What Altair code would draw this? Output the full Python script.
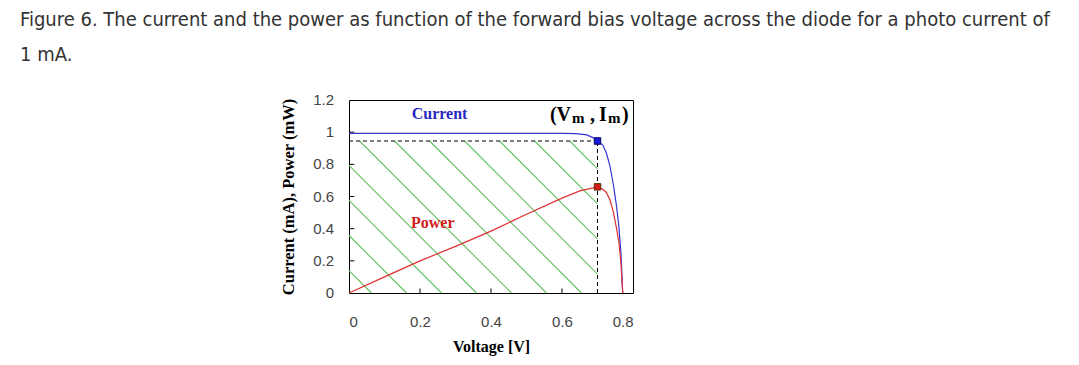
import altair as alt
import pandas as pd

# ---- data ----
cur_v = [0, 0.1, 0.2, 0.3, 0.4, 0.5, 0.6, 0.64, 0.67, 0.69, 0.70, 0.715, 0.725, 0.735, 0.745, 0.753, 0.76, 0.766, 0.771]
cur_i = [0.993, 0.993, 0.993, 0.993, 0.993, 0.993, 0.993, 0.991, 0.983, 0.963, 0.945, 0.92, 0.87, 0.79, 0.67, 0.55, 0.42, 0.25, 0.0]

pow_v = [0, 0.1, 0.2, 0.3, 0.4, 0.5, 0.6, 0.65, 0.70, 0.715, 0.725, 0.735, 0.745, 0.753, 0.76, 0.766, 0.771]
pow_p = [0, 0.10, 0.20, 0.29, 0.385, 0.49, 0.59, 0.635, 0.66, 0.645, 0.625, 0.58, 0.50, 0.41, 0.32, 0.19, 0.0]

v_m = 0.70
i_m = 0.945
p_m = 0.66

x_ticks = [0, 0.2, 0.4, 0.6, 0.8]
y_ticks = [0, 0.2, 0.4, 0.6, 0.8, 1.0, 1.2]
y_tick_labels = ["0", "0.2", "0.4", "0.6", "0.8", "1", "1.2"]

caption = [
    "Figure 6. The current and the power as function of the forward bias voltage across the diode for a photo current of",
    "1 mA.",
]

# ---- hatch pattern of the maximum power rectangle (decoration) ----
hatch_step = 0.0986   # horizontal spacing between hatch lines (V)
hatch_slope = 2.21    # drop in y units per V
hatch_phase = 0.030
segs = []
for k in range(-8, 12):
    x0 = hatch_phase + k * hatch_step
    xa = max(0.0, x0)
    xb = min(v_m, x0 + i_m / hatch_slope)
    if xa < xb:
        ya = i_m - hatch_slope * (xa - x0)
        yb = i_m - hatch_slope * (xb - x0)
        segs.append({"x": xa, "y": min(i_m, ya), "x2": xb, "y2": max(0.0, yb)})
hatch_df = pd.DataFrame(segs)

cur_df = pd.DataFrame({"V": cur_v, "val": cur_i})
pow_df = pd.DataFrame({"V": pow_v, "val": pow_p})
ylab_df = pd.DataFrame({"t": y_ticks, "lab": y_tick_labels})

SERIF = "Liberation Serif"
SANS = "Liberation Sans"
CAP_FONT = "DejaVu Sans Condensed"

xs = alt.Scale(domain=[0, 0.8], nice=False, zero=False)
ys = alt.Scale(domain=[0, 1.2], nice=False, zero=False)

x_axis = alt.Axis(values=x_ticks, format="~g", title="Voltage [V]", grid=False, domain=False,
                  tickSize=0, labelPadding=21, labelFont=SANS, labelFontSize=15, labelColor="#444",
                  labelOverlap=False,
                  titleFont=SERIF, titleFontSize=16, titleFontWeight="bold", titleColor="#000",
                  titlePadding=9)
y_axis = alt.Axis(values=y_ticks, labels=False, title="Current (mA), Power (mW)", grid=False, domain=False,
                  ticks=False, titleFont=SERIF, titleFontSize=16.5, titleFontWeight="bold", titleColor="#000",
                  titlePadding=53)

hatch = alt.Chart(hatch_df).mark_rule(color="#62c262", strokeWidth=1.1).encode(
    x=alt.X("x:Q", scale=xs, axis=x_axis), y=alt.Y("y:Q", scale=ys, axis=y_axis),
    x2="x2:Q", y2="y2:Q")

dash_h = alt.Chart().mark_rule(color="#000", strokeDash=[4, 3], strokeWidth=1).encode(
    x=alt.datum(0), x2=alt.datum(v_m), y=alt.datum(i_m))
dash_v = alt.Chart().mark_rule(color="#000", strokeDash=[4, 3], strokeWidth=1).encode(
    x=alt.datum(v_m), y=alt.datum(0), y2=alt.datum(i_m))

xt_df = pd.DataFrame({"t": x_ticks[1:-1]})
yt_df = pd.DataFrame({"t": y_ticks[1:-1]})
x_tick_marks = alt.Chart(xt_df).mark_rule(color="#000").encode(
    x=alt.X("t:Q", axis=x_axis), y=alt.datum(0), y2=alt.datum(0.028))
y_tick_marks = alt.Chart(yt_df).mark_rule(color="#000").encode(
    y=alt.Y("t:Q", axis=y_axis), x=alt.datum(0), x2=alt.datum(0.015))

y_labels = alt.Chart(ylab_df).mark_text(font=SANS, fontSize=15, color="#444", align="right",
                                        baseline="middle", dx=-15).encode(
    y=alt.Y("t:Q", axis=y_axis), x=alt.datum(0), text="lab:N")

cur_line = alt.Chart(cur_df).mark_line(color="#3535d0", strokeWidth=1.2).encode(
    x=alt.X("V:Q", axis=x_axis), y=alt.Y("val:Q", axis=y_axis))
pow_line = alt.Chart(pow_df).mark_line(color="#e03030", strokeWidth=1.2).encode(
    x=alt.X("V:Q", axis=x_axis), y=alt.Y("val:Q", axis=y_axis))

sq_cur = alt.Chart().mark_square(size=42, color="#1a1ad8", stroke="#000066", strokeWidth=1, opacity=1).encode(
    x=alt.datum(v_m), y=alt.datum(i_m))
sq_pow = alt.Chart().mark_square(size=42, color="#d81a1a", stroke="#553300", strokeWidth=1, opacity=1).encode(
    x=alt.datum(v_m), y=alt.datum(p_m))

t_cur = alt.Chart().mark_text(text="Current", font=SERIF, fontSize=16, fontWeight="bold", color="#2828c0").encode(
    x=alt.datum(0.255), y=alt.datum(1.113))
t_pow = alt.Chart().mark_text(text="Power", font=SERIF, fontSize=16, fontWeight="bold", color="#d02020").encode(
    x=alt.datum(0.236), y=alt.datum(0.435))

lab_x = 0.566
lab_y = 1.105
pieces = [("(V", 0, 0, 20), ("m", 22, 3, 15), (",", 40, 0, 20), ("I", 49, 0, 20), ("m", 58, 3, 15), (")", 72, 0, 20)]
vm_labels = [
    alt.Chart().mark_text(text=t, font=SERIF, fontSize=s, fontWeight="bold", color="#000",
                          align="left", dx=dx, dy=dy).encode(x=alt.datum(lab_x), y=alt.datum(lab_y))
    for (t, dx, dy, s) in pieces
]

chart = alt.layer(hatch, dash_h, dash_v, x_tick_marks, y_tick_marks, y_labels, cur_line, pow_line,
                  sq_cur, sq_pow, t_cur, t_pow, *vm_labels).properties(
    width=284, height=193,
    title=alt.TitleParams(text=caption, anchor="start", frame="group", dx=-329, dy=-28, offset=0,
                          font=CAP_FONT, fontSize=20, fontWeight="normal",
                          color="#333", lineHeight=35, baseline="top"),
    autosize=alt.AutoSizeParams(type="none"),
    padding={"left": 341, "top": 92, "right": 438, "bottom": 64},
).configure_view(stroke="#000", strokeWidth=1).configure_axis(labelOverlap=False)

chart.save("out.html", embed_options={"renderer": "svg", "actions": False})
